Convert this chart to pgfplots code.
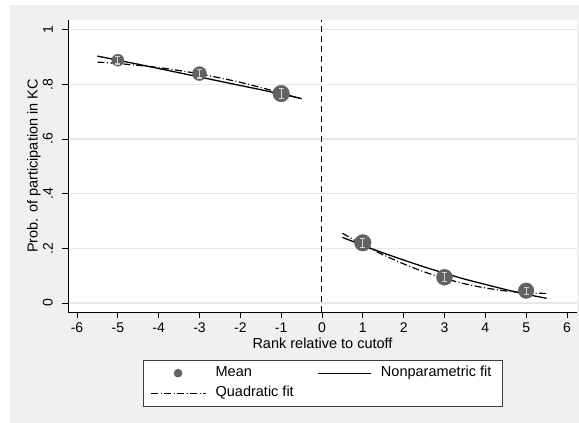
\documentclass[border=0pt]{standalone}
\usepackage{fontspec}
\setmainfont{Liberation Sans}
\usepackage{pgfplots}
\pgfplotsset{compat=1.18}
\usetikzlibrary{plotmarks}

\definecolor{bggray}{RGB}{240,240,240}
\definecolor{gridgray}{RGB}{232,232,232}
\definecolor{markgray}{RGB}{98,98,98}
\definecolor{errgray}{RGB}{210,210,210}
\definecolor{legframe}{RGB}{60,60,60}

\begin{document}
\begin{tikzpicture}[x=1pt,y=1pt]
\path[use as bounding box] (0,0) rectangle (579,-423);
\fill[bggray] (10,-5) rectangle (579,-423);
\begin{axis}[
  at={(68pt,-312pt)}, anchor=south west,
  scale only axis, width=509pt, height=292pt,
  xmin=-6.22, xmax=6.245, ymin=-0.033, ymax=1.035,
  axis x line*=bottom, axis y line*=left,
  axis line style={black, line width=0.9pt, -},
  axis background/.style={fill=white},
  xtick={-6,-5,-4,-3,-2,-1,0,1,2,3,4,5,6},
  xticklabels={-6,-5,-4,-3,-2,-1,0,1,2,3,4,5,6},
  ytick={0,0.2,0.4,0.6,0.8,1},
  yticklabels={0,.2,.4,.6,.8,1},
  ymajorgrids, major grid style={gridgray, line width=1.2pt},
  tick align=outside, major tick length=6pt,
  tick style={black, line width=0.8pt},
  /pgf/number format/assume math mode=true,
  every tick label/.append style={font=\fontsize{14}{16}\selectfont},
  yticklabel style={xshift=-9pt, rotate=90, anchor=south, inner sep=0pt},
  xticklabel style={inner sep=0pt, yshift=-5pt},
  label style={font=\fontsize{14.5}{17}\selectfont},
  xlabel={Rank relative to cutoff},
  ylabel={Prob. of participation in KC},
  xlabel style={at={(axis description cs:0.5,-0.106)}, anchor=center},
  ylabel style={at={(axis description cs:-0.0668,0.5)}, anchor=center, rotate=0},
  legend columns=2,
  legend cell align=left,
  legend style={at={(0.1473,-0.1644)}, anchor=north west,
    draw=legframe, line width=0.9pt, fill=white,
    font=\fontsize{14.5}{17}\selectfont,
    inner xsep=7pt, inner ysep=5pt, row sep=4.5pt,
    nodes={inner xsep=4pt, inner ysep=1pt, text height=10.5pt, text depth=3pt},
    /tikz/every odd column/.append style={column sep=5pt},
    /tikz/every even column/.append style={column sep=20pt}},
]
% cutoff line
\addplot[forget plot, black, line width=1pt, dash pattern=on 6pt off 4pt]
  coordinates {(0,-0.033) (0,1.035)};

% means, marker size grows with the cell count
\addplot[forget plot, only marks, mark=*, mark size=6pt, markgray] coordinates {(-5,0.888)};
\addplot[forget plot, only marks, mark=*, mark size=7pt, markgray] coordinates {(-3,0.839)};
\addplot[forget plot, only marks, mark=*, mark size=8.3pt, markgray] coordinates {(-1,0.766)};
\addplot[forget plot, only marks, mark=*, mark size=8.3pt, markgray] coordinates {(1,0.220)};
\addplot[forget plot, only marks, mark=*, mark size=8pt, markgray] coordinates {(3,0.094)};
\addplot[forget plot, only marks, mark=*, mark size=7.8pt, markgray] coordinates {(5,0.045)};

% confidence intervals: vertical bar at each mean (half length = mark size) ...
\addplot[forget plot, only marks, errgray, mark=|, mark size=3.8pt, mark options={solid, line width=1.2pt}] coordinates {(-5,0.888)};
\addplot[forget plot, only marks, errgray, mark=|, mark size=4.4pt, mark options={solid, line width=1.2pt}] coordinates {(-3,0.839)};
\addplot[forget plot, only marks, errgray, mark=|, mark size=5.2pt, mark options={solid, line width=1.2pt}] coordinates {(-1,0.766)};
\addplot[forget plot, only marks, errgray, mark=|, mark size=4.6pt, mark options={solid, line width=1.2pt}] coordinates {(1,0.220)};
\addplot[forget plot, only marks, errgray, mark=|, mark size=4.4pt, mark options={solid, line width=1.2pt}] coordinates {(3,0.094)};
\addplot[forget plot, only marks, errgray, mark=|, mark size=3.6pt, mark options={solid, line width=1.2pt}] coordinates {(5,0.045)};
% ... and caps at the lower and upper ends
\addplot[forget plot, only marks, errgray, mark=-, mark size=2.4pt,
  mark options={solid, line width=1.1pt}] coordinates {
  (-5,0.874) (-5,0.902)
  (-3,0.823) (-3,0.855)
  (-1,0.747) (-1,0.785)
  (1,0.203) (1,0.237)
  (3,0.078) (3,0.110)
  (5,0.032) (5,0.058)
};

% nonparametric fit
\addplot[forget plot, black, line width=1.3pt, smooth] coordinates {
  (-5.5,0.903) (-4.5,0.873) (-3.5,0.842) (-2.5,0.811) (-1.5,0.780) (-0.5,0.748)
};
\addplot[forget plot, black, line width=1.3pt, smooth] coordinates {
  (0.5,0.240) (1,0.211) (1.5,0.183) (2,0.157) (2.5,0.132) (3,0.109)
  (3.5,0.087) (4,0.068) (4.5,0.049) (5,0.032) (5.5,0.017)
};

% quadratic fit
\addplot[forget plot, black, line width=1.2pt, smooth, dash pattern=on 7pt off 2.5pt on 1pt off 2.5pt] coordinates {
  (-5.5,0.881) (-5,0.876) (-4,0.861) (-3,0.838) (-2,0.807) (-1,0.768) (-0.5,0.745)
};
\addplot[forget plot, black, line width=1.2pt, smooth, dash pattern=on 7pt off 2.5pt on 1pt off 2.5pt] coordinates {
  (0.5,0.255) (1,0.213) (1.5,0.176) (2,0.143) (2.5,0.114) (3,0.090)
  (3.5,0.070) (4,0.055) (4.5,0.044) (5,0.037) (5.5,0.035)
};

\addlegendimage{legend image code/.code={\draw[markgray, only marks, mark=*, mark size=3.8pt, mark repeat=3, mark phase=2] plot coordinates {(0pt,0pt) (27pt,0pt) (55pt,0pt)};}}
\addlegendentry{Mean}
\addlegendimage{legend image code/.code={\draw[black, line width=1.2pt] (0pt,0pt) -- (53pt,0pt);}}
\addlegendentry{Nonparametric fit}
\addlegendimage{legend image code/.code={\draw[black, line width=1.2pt, dash pattern=on 7pt off 2.5pt on 1pt off 2.5pt] (0pt,0pt) -- (55pt,0pt);}}
\addlegendentry{Quadratic fit}
\end{axis}
\end{tikzpicture}
\end{document}
